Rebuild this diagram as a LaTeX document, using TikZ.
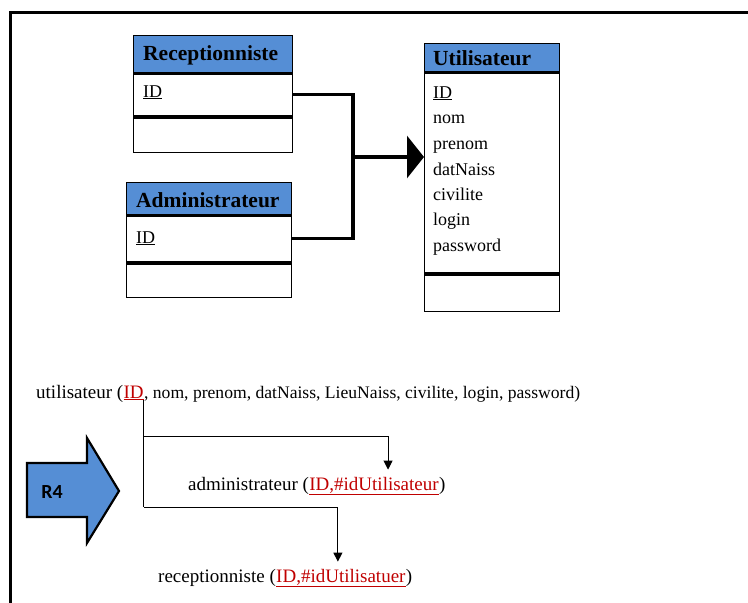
\documentclass[tikz,border=0pt]{standalone}
\usepackage{fontspec}
\setmainfont{Liberation Serif}
\newfontfamily\tagfont{Carlito}
\usetikzlibrary{arrows.meta}
\definecolor{hdrblue}{RGB}{85,142,213}
\definecolor{idred}{RGB}{192,0,0}

\begin{document}
\begin{tikzpicture}[x=1pt,y=-1pt,
  box/.style={draw=black, line width=1.2pt, inner sep=0, anchor=north west},
  hdr/.style={box, fill=hdrblue},
  ttl/.style={font=\fontsize{21.5}{24}\selectfont\bfseries, anchor=base west, inner sep=0},
  att/.style={font=\fontsize{18}{20}\selectfont, anchor=base west, inner sep=0},
  rel/.style={font=\fontsize{19}{22}\selectfont, anchor=base west, inner sep=0},
  relsm/.style={font=\fontsize{17.6}{22}\selectfont, anchor=base west, inner sep=0},
  hbar/.style={line width=3pt},
  bar/.style={line width=3.5pt},
  gen/.style={line width=3.5pt, line join=miter},
  thin/.style={line width=1pt},
  link/.style={line width=1pt, -{Triangle[length=9pt,width=9pt]}},
]
\useasboundingbox (0,0) rectangle (748,603);
\fill[white] (0,0) rectangle (748,603);

% outer frame
\draw[line width=3pt] (10,603) -- (10,12) -- (748,12);

% ---- Receptionniste class ----
\node[hdr, minimum width=159pt, minimum height=37pt] (rechead) at (133,35) {};
\node[box, minimum width=159pt, minimum height=44pt] (recid) at (133,72) {};
\node[box, minimum width=159pt, minimum height=36pt] (recops) at (133,116) {};
\draw[hbar] (rechead.south west) -- (rechead.south east);
\draw[bar] (recid.south west) -- (recid.south east);
\node[ttl] (rectitle) at (143,60) {Receptionniste};
\node[att] (recattr) at (143,97) {\underline{ID}};

% ---- Administrateur class ----
\node[hdr, minimum width=165pt, minimum height=32pt] (admhead) at (126,182) {};
\node[box, minimum width=165pt, minimum height=48pt] (admid) at (126,214) {};
\node[box, minimum width=165pt, minimum height=35pt] (admops) at (126,262) {};
\draw[hbar] (admhead.south west) -- (admhead.south east);
\draw[bar] (admid.south west) -- (admid.south east);
\node[ttl] (admtitle) at (136,207) {Administrateur};
\node[att] (admattr) at (136,243) {\underline{ID}};

% ---- Utilisateur class ----
\node[hdr, minimum width=135pt, minimum height=28pt] (utihead) at (424,43) {};
\node[box, minimum width=135pt, minimum height=202pt] (utibody) at (424,71) {};
\node[box, minimum width=135pt, minimum height=38pt] (utiops) at (424,273) {};
\draw[hbar] (utihead.south west) -- (utihead.south east);
\draw[bar] (utibody.south west) -- (utibody.south east);
\node[ttl] (utititle) at (433,65) {Utilisateur};
\node[att] (a1) at (433,98) {\underline{ID}};
\node[att] (a2) at (433,123.5) {nom};
\node[att] (a3) at (433,149.5) {prenom};
\node[att] (a4) at (433,175) {datNaiss};
\node[att] (a5) at (433,200) {civilite};
\node[att] (a6) at (433,225.5) {login};
\node[att] (a7) at (433,251) {password};

% ---- generalisation ----
\coordinate (J) at (353,157);
\draw[gen] (recid.east) -| (J);
\draw[gen] (admid.east) -| (J);
\draw[gen, -{Triangle[length=17pt,width=42pt]}] (J) -- (J -| utibody.west);

% ---- relational schema ----
\node[rel] (ulead) at (36,398) {utilisateur (};
\node[rel, text=idred] (uid) at (ulead.base east) {\underline{ID}};
\node[relsm] (urest) at (uid.base east) {, nom, prenom, datNaiss, LieuNaiss, civilite, login, password)};

\node[rel] (alead) at (188,490) {administrateur (};
\node[rel, text=idred] (aid) at (alead.base east) {\underline{ID,\#idUtilisateur}};
\node[rel] (atail) at (aid.base east) {)};

\node[rel] (rlead) at (158,582) {receptionniste (};
\node[rel, text=idred] (rid) at (rlead.base east) {\underline{ID,\#idUtilisatuer}};
\node[rel] (rtail) at (rid.base east) {)};

\coordinate (fork) at ([xshift=0pt]uid.south east);
\coordinate (k1) at (143,436);
\coordinate (k2) at (143,507);
\draw[thin] (fork) -- (fork |- k2);
\draw[link] (fork |- k1) -| ([xshift=14pt,yshift=7pt]aid.north);
\draw[link] (fork |- k2) -| ([xshift=-3pt,yshift=7pt]rid.north);

% ---- R4 block arrow ----
\draw[fill=hdrblue, line width=2.2pt, line join=miter]
  (27,463) -- (87,463) -- (87,438) -- (119,491) -- (87,543) -- (87,517) -- (27,517) -- cycle;
\node[font=\tagfont\bfseries\fontsize{20}{22}\selectfont, inner sep=0] (r4) at (52,492) {R4};
\end{tikzpicture}
\end{document}
